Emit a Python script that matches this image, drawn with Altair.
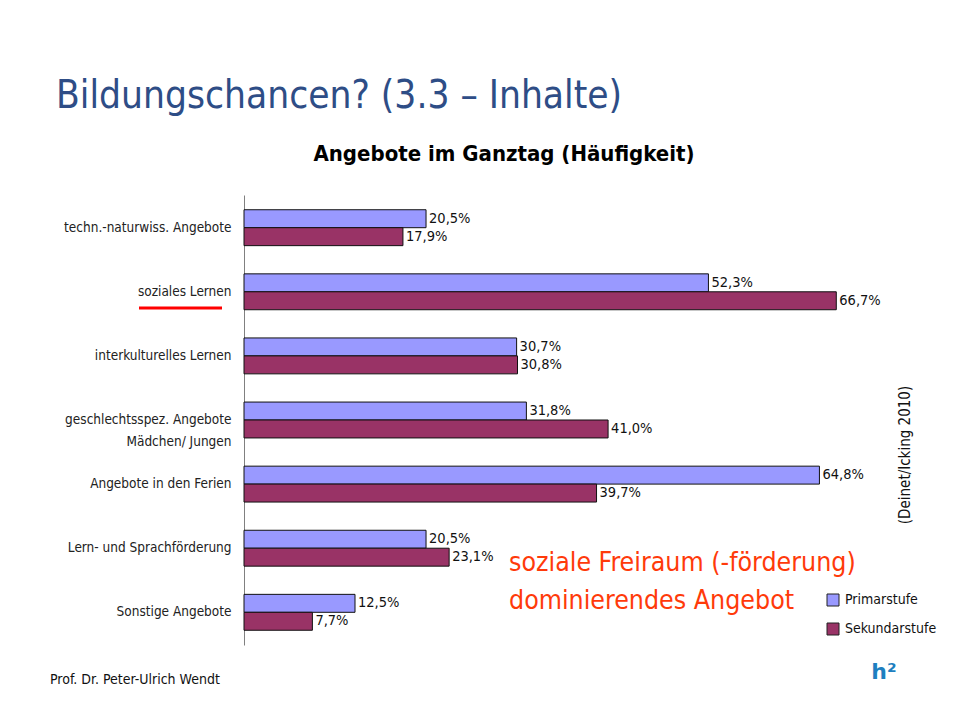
import altair as alt
import pandas as pd

categories = [
    "techn.-naturwiss. Angebote",
    "soziales Lernen",
    "interkulturelles Lernen",
    "geschlechtsspez. Angebote|Mädchen/ Jungen",
    "Angebote in den Ferien",
    "Lern- und Sprachförderung",
    "Sonstige Angebote",
]
primar = [20.5, 52.3, 30.7, 31.8, 64.8, 20.5, 12.5]
sekundar = [17.9, 66.7, 30.8, 41.0, 39.7, 23.1, 7.7]
series = ["Primarstufe", "Sekundarstufe"]
colors = ["#9999FF", "#993366"]

rows = []
for c, p, s in zip(categories, primar, sekundar):
    rows.append({"cat": c, "series": series[0], "value": p})
    rows.append({"cat": c, "series": series[1], "value": s})
df = pd.DataFrame(rows)

FONT = "DejaVu Sans Condensed, sans-serif"

y_enc = alt.Y("cat:N", sort=categories,
              scale=alt.Scale(paddingInner=0.44, paddingOuter=0.23),
              axis=alt.Axis(title=None, ticks=False, domainColor="#808080",
                            labelFont=FONT, labelFontSize=13.5, labelColor="#222222",
                            labelPadding=13, labelLimit=300, labelLineHeight=22,
                            labelExpr="split(datum.label, '|')"))
yoff = alt.YOffset("series:N", sort=series)
x_enc = alt.X("value:Q", scale=alt.Scale(domain=[0, 75], nice=False),
              axis=None)

base = alt.Chart(df)
bars = base.mark_bar(stroke="#111111", strokeWidth=1).encode(
    y=y_enc, yOffset=yoff, x=x_enc,
    color=alt.Color("series:N", scale=alt.Scale(domain=series, range=colors),
                    legend=alt.Legend(title=None, orient="none", legendX=582, legendY=398,
                                      symbolType="square", symbolSize=144,
                                      symbolStrokeColor="#222222", symbolStrokeWidth=1,
                                      labelFont=FONT, labelFontSize=14, labelColor="#111111",
                                      rowPadding=13, labelOffset=5)),
)
labels = base.transform_calculate(
    label="replace(format(datum.value, '.1f'), '.', ',') + '%'"
).mark_text(align="left", baseline="middle", dx=3, font=FONT, fontSize=14.5,
            color="#111111").encode(
    y=alt.Y("cat:N", sort=categories), yOffset=yoff, x="value:Q", text="label:N"
)


def note(text, x, y, **kw):
    return alt.Chart(alt.Data(values=[{}])).mark_text(text=text, **kw).encode(
        x=alt.value(x), y=alt.value(y))


title = note("Bildungschancen? (3.3 – Inhalte)", -188, -99, align="left", baseline="middle",
             font=FONT, fontSize=38.5, color="#2E4D86")
subtitle = note("Angebote im Ganztag (Häufigkeit)", 260, -41, align="center",
                baseline="middle", font=FONT, fontSize=22, fontWeight="bold", color="#000000")
red1 = note("soziale Freiraum (-förderung)", 265, 368, align="left", baseline="middle",
            font=FONT, fontSize=26.5, color="#FF3A0A")
red2 = note("dominierendes Angebot", 265, 406, align="left", baseline="middle",
            font=FONT, fontSize=26.5, color="#FF3A0A")
source = note("(Deinet/Icking 2010)", 661, 260, align="center", baseline="middle",
              angle=270, font=FONT, fontSize=15, color="#111111")
footer = note("Prof. Dr. Peter-Ulrich Wendt", -194, 485, align="left", baseline="middle",
              font=FONT, fontSize=14, color="#111111")
logo = note("h²", 640, 477, align="center", baseline="middle",
            font="DejaVu Sans", fontSize=22, fontWeight="bold", color="#1E7FC0")

underline = alt.Chart(alt.Data(values=[{}])).mark_rule(color="#FF0000", strokeWidth=3).encode(
    x=alt.value(-105), x2=alt.value(-22), y=alt.value(113))

chart = alt.layer(bars, labels, title, subtitle, red1, red2, source, footer, logo, underline).properties(
    width=666, height=450,
    padding={"left": 236, "top": 187, "right": 39, "bottom": 67},
    autosize=alt.AutoSizeParams(type="none"),
).configure(background="white").configure_view(stroke=None)

chart.save("out.html", embed_options={"renderer": "svg", "actions": False})
